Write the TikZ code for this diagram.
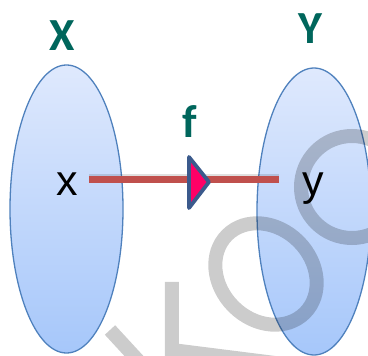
\documentclass[tikz,border=0pt]{standalone}
\usepackage{fontspec}
\setmainfont{Liberation Sans}
\newfontfamily\calfont{Carlito}
\usetikzlibrary{shapes.geometric}
\definecolor{tealc}{RGB}{0,102,92}
\definecolor{setedge}{RGB}{79,129,189}
\definecolor{settop}{RGB}{223,233,253}
\definecolor{setbot}{RGB}{166,199,250}
\definecolor{maproad}{RGB}{192,80,77}
\definecolor{tribord}{RGB}{59,90,140}
\definecolor{trifill}{RGB}{255,0,102}
\tikzset{
  setshape/.style={ellipse, draw=setedge, line width=1.3pt, top color=settop, bottom color=setbot, inner sep=0pt},
  setname/.style={font=\calfont\bfseries\fontsize{46}{46}\selectfont, text=tealc, inner sep=0pt, anchor=base},
  elem/.style={font=\fontsize{43}{43}\selectfont, text=black, inner sep=0pt, anchor=base},
  wmark/.style={draw=black, draw opacity=0.2, line width=14pt},
}
\begin{document}
\begin{tikzpicture}[x=1pt,y=-1pt]
\useasboundingbox (0,0) rectangle (368,356);
% sets
\node[setshape, minimum width=113pt, minimum height=288pt] (A) at (66.5,209) {};
\node[setshape, minimum width=114pt, minimum height=287pt] (B) at (314,211.5) {};
% labels
\node[setname] (lX) at (62,50) {X};
\node[setname] (lY) at (310,43) {Y};
\node[setname] (lf) at (190,137) {f};
% map line
\coordinate (s) at (89,180);
\coordinate (t) at (279,180);
\draw[line width=6pt, black, opacity=0.12] ([yshift=3]s) -- ([yshift=3]t);
\draw[line width=7pt, maproad] (s) -- (t);
% arrow head
\coordinate (p1) at (189,157);
\coordinate (p2) at (189,208);
\coordinate (p3) at (209,182);
\draw[line width=3.8pt, draw=tribord, fill=trifill, line join=round] (p1) -- (p3) -- (p2) -- cycle;
% elements
\node[elem] (ex) at (67,196) {x};
\node[elem] (ey) at (313,196) {y};
% watermark
\draw[wmark] (352,187) circle (51);
\draw[wmark] (266,274) ellipse[x radius=55, y radius=46, rotate=-45];
\draw[wmark, line join=miter] (172,282) -- (172,350) -- (275,363);
\draw[wmark] (110,330) -- (145,368);
\end{tikzpicture}
\end{document}
